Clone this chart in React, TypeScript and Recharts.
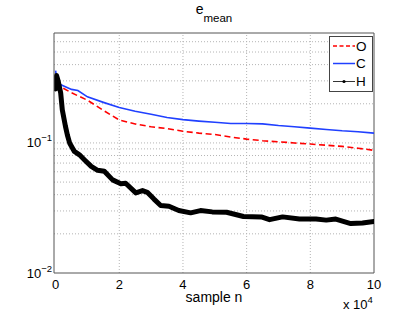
import React from "react"
import {
  LineChart,
  Line,
  XAxis,
  YAxis,
  ReferenceLine,
  Legend,
  Customized,
} from "recharts"

// sample n in units of 1e4
const oSamples = [0, 0.1, 0.5, 1.0, 1.5, 2.0, 2.5, 3.0, 3.5, 4.0, 4.5, 5.0, 5.5, 6.0, 6.5, 7.0, 7.5, 8.0, 8.5, 9.0, 9.5, 10]
const oValues = [0.29, 0.275, 0.243, 0.213, 0.178, 0.15, 0.14, 0.133, 0.129, 0.123, 0.119, 0.116, 0.111, 0.107, 0.104, 0.102, 0.1, 0.098, 0.096, 0.094, 0.091, 0.0877]

const cSamples = [0, 0.05, 0.1, 0.5, 0.7, 1.0, 1.5, 2.0, 2.5, 3.0, 3.5, 4.0, 4.5, 5.0, 5.5, 6.0, 6.5, 7.0, 7.5, 8.0, 8.5, 9.0, 9.5, 10]
const cValues = [0.36, 0.3, 0.285, 0.258, 0.253, 0.226, 0.205, 0.187, 0.175, 0.166, 0.157, 0.151, 0.147, 0.144, 0.141, 0.141, 0.14, 0.136, 0.133, 0.13, 0.127, 0.124, 0.122, 0.119]

const hSamples = [0, 0.03, 0.08, 0.16, 0.21, 0.31, 0.37, 0.44, 0.59, 0.75, 0.91, 1.12, 1.32, 1.53, 1.79, 2.05, 2.2, 2.52, 2.73, 2.88, 3.09, 3.3, 3.56, 3.87, 4.24, 4.55, 4.92, 5.37, 5.9, 6.46, 6.72, 7.13, 7.66, 8.18, 8.5, 8.8, 9.27, 9.64, 10]
const hValues = [0.26, 0.33, 0.3, 0.242, 0.18, 0.134, 0.115, 0.1, 0.086, 0.081, 0.074, 0.066, 0.0616, 0.0605, 0.052, 0.0486, 0.049, 0.0413, 0.043, 0.0417, 0.037, 0.033, 0.0326, 0.0302, 0.029, 0.0302, 0.0295, 0.0293, 0.0272, 0.027, 0.0257, 0.027, 0.026, 0.026, 0.0255, 0.026, 0.024, 0.0242, 0.0249]

const xTicks = [0, 2, 4, 6, 8, 10]
const yTicks = [0.01, 0.1]
const yMinorGrid = [0.02, 0.03, 0.04, 0.05, 0.06, 0.07, 0.08, 0.09, 0.2, 0.3, 0.4, 0.5, 0.6]
const xGrid = [2, 4, 6, 8]

const zip = (xs: number[], ys: number[]) => xs.map((x, i) => ({ n: x, e: ys[i] }))
const dataO = zip(oSamples, oValues)
const dataC = zip(cSamples, cValues)
const dataH = zip(hSamples, hValues)

const FONT = '"Liberation Sans", Arial, Helvetica, sans-serif'
const AXIS = "#555"
const GRID = "#b4b4b4"

const XTick = ({ x, y, payload }: any) => (
  <text x={x} y={y + 8} textAnchor="middle" fontSize={13} fontFamily={FONT} fill="#000">
    {payload.value}
  </text>
)

const YTick = ({ x, y, payload }: any) => {
  const exp = Math.round(Math.log10(payload.value))
  return (
    <text x={x + 6} y={y + 4.5} textAnchor="end" fontSize={13} fontFamily={FONT} fill="#000">
      10
      <tspan dy={-6} fontSize={9.5}>{"\u2212" + Math.abs(exp)}</tspan>
    </text>
  )
}

const XLabel = ({ viewBox }: any) => {
  const { x, y, width } = viewBox
  return (
    <g fontFamily={FONT} fill="#000">
      <text x={x + width / 2} y={y + 29} textAnchor="middle" fontSize={14}>
        sample n
      </text>
      <text x={x + width - 31} y={y + 35.5} fontSize={13}>
        x 10
        <tspan dy={-6} fontSize={9.5}>4</tspan>
      </text>
    </g>
  )
}

const Title = () => (
  <text x={214} y={13.5} textAnchor="middle" fontFamily={FONT} fill="#000">
    <tspan fontSize={14}>e</tspan>
    <tspan dy={8} fontSize={11.5}>mean</tspan>
  </text>
)

const LegendBox = () => (
  <svg width={44} height={56} style={{ display: "block" }}>
    <rect x={0.5} y={0.5} width={43} height={55} fill="#fff" stroke="#444" />
    <line x1={4} x2={26} y1={10} y2={10} stroke="#ff0000" strokeWidth={1.5} strokeDasharray="4 2.5" />
    <text x={27} y={14.5} fontSize={13.5} fontFamily={FONT}>O</text>
    <line x1={4} x2={26} y1={27.5} y2={27.5} stroke="#2040ff" strokeWidth={1.5} />
    <text x={27} y={32} fontSize={13.5} fontFamily={FONT}>C</text>
    <line x1={4} x2={26} y1={45.5} y2={45.5} stroke="#000" strokeWidth={0.8} />
    <circle cx={15} cy={45.5} r={1.6} fill="#000" />
    <text x={27} y={50} fontSize={13.5} fontFamily={FONT}>H</text>
  </svg>
)

export default function App() {
  return (
    <div style={{ position: "absolute", left: 0, top: 0, background: "#fff" }}>
      <LineChart width={415} height={312} margin={{ top: 33, right: 41, left: 0, bottom: 0 }}>
        <XAxis
          dataKey="n"
          type="number"
          domain={[-0.05, 10]}
          allowDataOverflow
          ticks={xTicks}
          tick={<XTick />}
          tickLine={false}
          height={39}
          axisLine={{ stroke: AXIS }}
          label={<XLabel />}
        />
        <YAxis
          dataKey="e"
          type="number"
          scale="log"
          domain={[0.01, 0.7]}
          allowDataOverflow
          ticks={yTicks}
          tick={<YTick />}
          tickLine={false}
          width={54}
          axisLine={{ stroke: AXIS }}
        />
        {yMinorGrid.map((v) => (
          <ReferenceLine key={"y" + v} y={v} stroke={GRID} strokeDasharray="1 2" />
        ))}
        <ReferenceLine y={0.1} stroke={GRID} strokeDasharray="1 2" />
        {xGrid.map((v) => (
          <ReferenceLine key={"x" + v} x={v} stroke={GRID} strokeDasharray="1 2" />
        ))}
        <ReferenceLine y={0.7} stroke={AXIS} />
        <ReferenceLine x={10} stroke={AXIS} />
        <Line
          data={dataO}
          dataKey="e"
          name="O"
          stroke="#ff0000"
          strokeWidth={1.6}
          strokeDasharray="6 3.5"
          dot={false}
          isAnimationActive={false}
        />
        <Line
          data={dataC}
          dataKey="e"
          name="C"
          stroke="#2040ff"
          strokeWidth={1.6}
          dot={false}
          isAnimationActive={false}
        />
        <Line
          data={dataH}
          dataKey="e"
          name="H"
          stroke="#000"
          strokeWidth={5}
          strokeLinejoin="round"
          strokeLinecap="round"
          dot={false}
          isAnimationActive={false}
        />
        <Legend
          layout="vertical"
          align="center"
          verticalAlign="middle"
          content={<LegendBox />}
          wrapperStyle={{ left: 329, top: 36, width: 44, height: 56 }}
        />
        <Customized component={<Title />} />
      </LineChart>
    </div>
  )
}
